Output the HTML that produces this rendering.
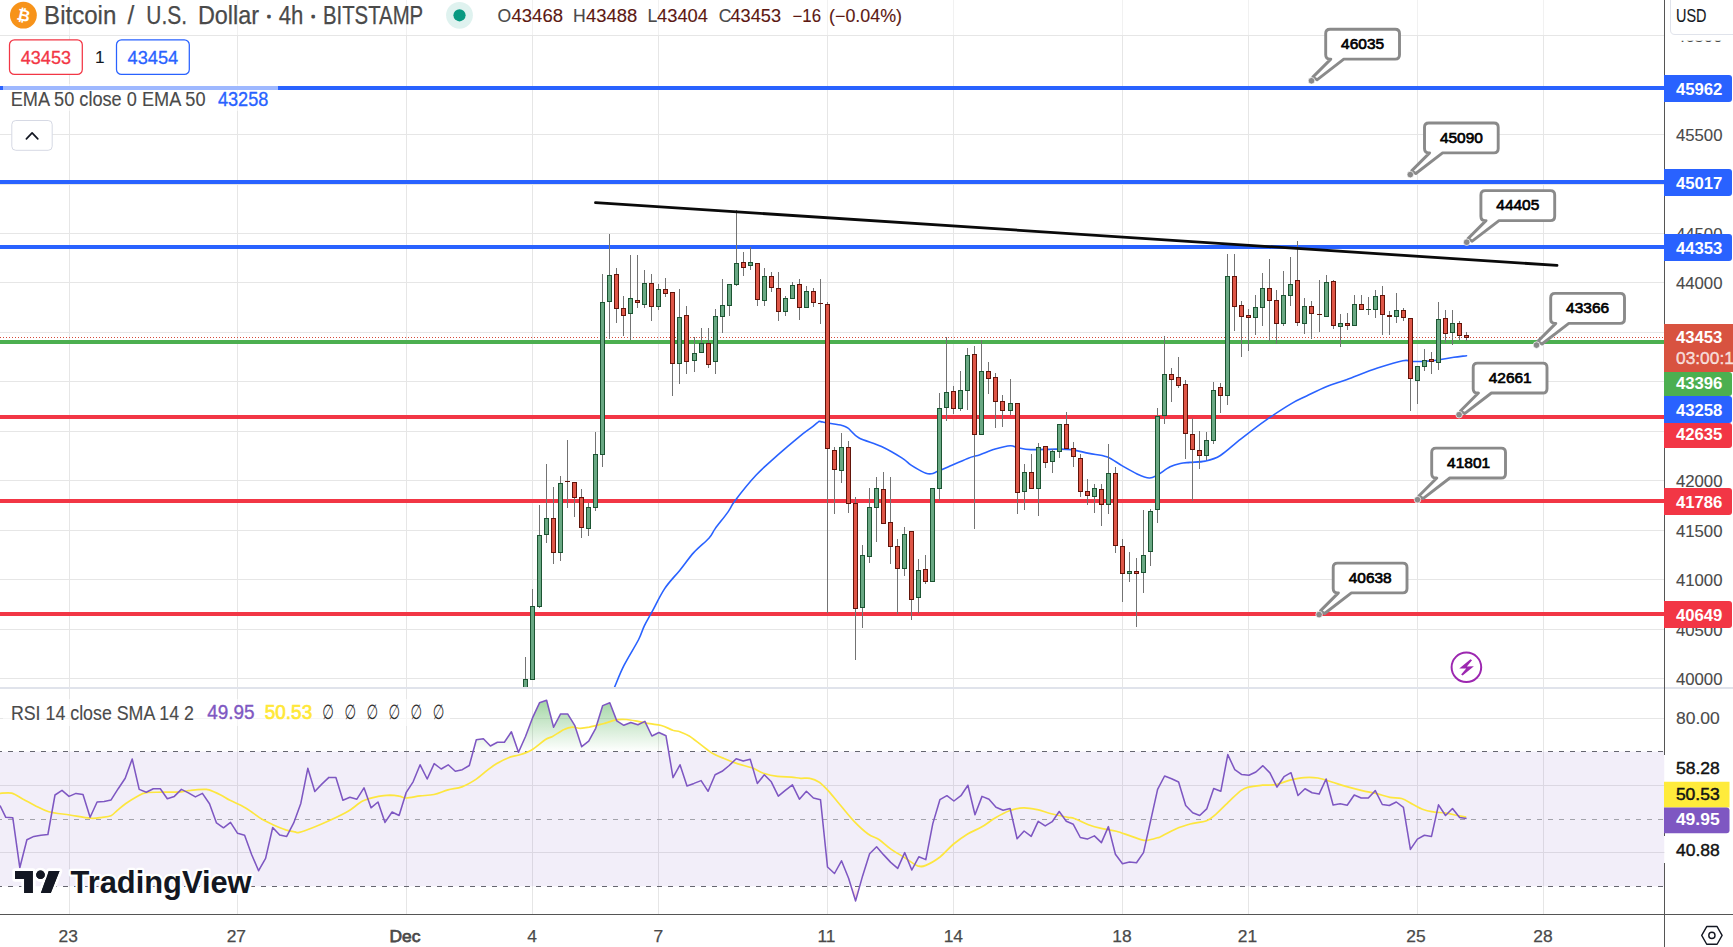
<!DOCTYPE html>
<html lang="en"><head><meta charset="utf-8"><title>BTCUSD 4h chart</title>
<style>
html,body{margin:0;padding:0;background:#fff;}
body{width:1733px;height:947px;overflow:hidden;font-family:"Liberation Sans", "DejaVu Sans", sans-serif;}
svg{display:block;font-family:"Liberation Sans", "DejaVu Sans", sans-serif;}
</style></head><body>
<svg width="1733" height="947" viewBox="0 0 1733 947">
<defs>
<clipPath id="mainclip"><rect x="0" y="0" width="1664.5" height="687"/></clipPath>
<clipPath id="rsiclip"><rect x="0" y="689" width="1664.5" height="225.5"/></clipPath>
<clipPath id="obclip"><rect x="0" y="689" width="1664.5" height="62.60000000000002"/></clipPath>
<clipPath id="osclip"><rect x="0" y="886.3" width="1664.5" height="28.200000000000045"/></clipPath>
<clipPath id="axclip"><rect x="1664.5" y="40.8" width="80" height="647.2"/></clipPath>
<linearGradient id="obgrad" gradientUnits="userSpaceOnUse" x1="0" y1="697" x2="0" y2="751.6">
<stop offset="0" stop-color="#4caf50" stop-opacity="0.55"/><stop offset="1" stop-color="#4caf50" stop-opacity="0"/></linearGradient>
<linearGradient id="osgrad" gradientUnits="userSpaceOnUse" x1="0" y1="886.3" x2="0" y2="910">
<stop offset="0" stop-color="#f23645" stop-opacity="0"/><stop offset="1" stop-color="#f23645" stop-opacity="0.5"/></linearGradient>
</defs>
<rect width="1733" height="947" fill="#fff"/>

<g stroke="#e6e6e6" stroke-width="1" shape-rendering="crispEdges">
<line x1="69.5" y1="35" x2="69.5" y2="688"/>
<line x1="69.5" y1="0" x2="69.5" y2="35" stroke="#f1f1f1"/>
<line x1="69.5" y1="688" x2="69.5" y2="914.5"/>
<line x1="237.5" y1="35" x2="237.5" y2="688"/>
<line x1="237.5" y1="0" x2="237.5" y2="35" stroke="#f1f1f1"/>
<line x1="237.5" y1="688" x2="237.5" y2="914.5"/>
<line x1="406.5" y1="35" x2="406.5" y2="688"/>
<line x1="406.5" y1="0" x2="406.5" y2="35" stroke="#f1f1f1"/>
<line x1="406.5" y1="688" x2="406.5" y2="914.5"/>
<line x1="532.5" y1="35" x2="532.5" y2="688"/>
<line x1="532.5" y1="0" x2="532.5" y2="35" stroke="#f1f1f1"/>
<line x1="532.5" y1="688" x2="532.5" y2="914.5"/>
<line x1="658.5" y1="35" x2="658.5" y2="688"/>
<line x1="658.5" y1="0" x2="658.5" y2="35" stroke="#f1f1f1"/>
<line x1="658.5" y1="688" x2="658.5" y2="914.5"/>
<line x1="827.5" y1="35" x2="827.5" y2="688"/>
<line x1="827.5" y1="0" x2="827.5" y2="35" stroke="#f1f1f1"/>
<line x1="827.5" y1="688" x2="827.5" y2="914.5"/>
<line x1="953.5" y1="35" x2="953.5" y2="688"/>
<line x1="953.5" y1="0" x2="953.5" y2="35" stroke="#f1f1f1"/>
<line x1="953.5" y1="688" x2="953.5" y2="914.5"/>
<line x1="1122.5" y1="35" x2="1122.5" y2="688"/>
<line x1="1122.5" y1="0" x2="1122.5" y2="35" stroke="#f1f1f1"/>
<line x1="1122.5" y1="688" x2="1122.5" y2="914.5"/>
<line x1="1248.5" y1="35" x2="1248.5" y2="688"/>
<line x1="1248.5" y1="0" x2="1248.5" y2="35" stroke="#f1f1f1"/>
<line x1="1248.5" y1="688" x2="1248.5" y2="914.5"/>
<line x1="1417.5" y1="35" x2="1417.5" y2="688"/>
<line x1="1417.5" y1="0" x2="1417.5" y2="35" stroke="#f1f1f1"/>
<line x1="1417.5" y1="688" x2="1417.5" y2="914.5"/>
<line x1="1543.5" y1="35" x2="1543.5" y2="688"/>
<line x1="1543.5" y1="0" x2="1543.5" y2="35" stroke="#f1f1f1"/>
<line x1="1543.5" y1="688" x2="1543.5" y2="914.5"/>
<line x1="0" y1="678.5" x2="1664.5" y2="678.5"/>
<line x1="0" y1="629.5" x2="1664.5" y2="629.5"/>
<line x1="0" y1="579.5" x2="1664.5" y2="579.5"/>
<line x1="0" y1="530.5" x2="1664.5" y2="530.5"/>
<line x1="0" y1="480.5" x2="1664.5" y2="480.5"/>
<line x1="0" y1="431.5" x2="1664.5" y2="431.5"/>
<line x1="0" y1="381.5" x2="1664.5" y2="381.5"/>
<line x1="0" y1="332.5" x2="1664.5" y2="332.5"/>
<line x1="0" y1="282.5" x2="1664.5" y2="282.5"/>
<line x1="0" y1="233.5" x2="1664.5" y2="233.5"/>
<line x1="0" y1="184.5" x2="1664.5" y2="184.5"/>
<line x1="0" y1="134.5" x2="1664.5" y2="134.5"/>
<line x1="0" y1="35.5" x2="1664.5" y2="35.5"/>
<line x1="0" y1="718.5" x2="1664.5" y2="718.5"/>
<line x1="0" y1="785.5" x2="1664.5" y2="785.5"/>
<line x1="0" y1="852.5" x2="1664.5" y2="852.5"/>
</g>
<rect x="0" y="751.6" width="1664.5" height="134.7" fill="#7e57c2" fill-opacity="0.1"/>
<g stroke="#666670" stroke-width="1" stroke-dasharray="5 6" stroke-dashoffset="3">
<line x1="0" y1="751.5" x2="1664.5" y2="751.5"/>
<line x1="0" y1="886.5" x2="1664.5" y2="886.5"/>
</g>
<line x1="0" y1="819.5" x2="1664.5" y2="819.5" stroke="#a3a3ab" stroke-width="1.1" stroke-dasharray="5 6" stroke-dashoffset="3"/>
<line x1="0" y1="88" x2="1664.5" y2="88" stroke="#2962ff" stroke-width="4"/>
<line x1="0" y1="182" x2="1664.5" y2="182" stroke="#2962ff" stroke-width="4"/>
<line x1="0" y1="247" x2="1664.5" y2="247" stroke="#2962ff" stroke-width="4"/>
<line x1="0" y1="342" x2="1664.5" y2="342" stroke="#4caf50" stroke-width="4"/>
<line x1="0" y1="417" x2="1664.5" y2="417" stroke="#f23645" stroke-width="4"/>
<line x1="0" y1="501" x2="1664.5" y2="501" stroke="#f23645" stroke-width="4"/>
<line x1="0" y1="614" x2="1664.5" y2="614" stroke="#f23645" stroke-width="4"/>
<line x1="0" y1="337.5" x2="1664.5" y2="337.5" stroke="#d64b3a" stroke-width="1" stroke-dasharray="1 2" shape-rendering="crispEdges"/>
<g clip-path="url(#mainclip)">
<path d="M614.6,687.0 C616.2,683.4 620.0,673.2 624.0,665.4 C628.0,657.6 635.0,646.5 638.4,640.0 C641.8,633.5 642.0,630.7 644.2,626.1 C646.4,621.5 648.4,618.4 651.8,612.2 C655.2,606.0 659.9,595.9 664.5,588.9 C669.1,581.9 674.8,576.4 679.7,570.4 C684.6,564.4 688.8,558.0 693.7,552.6 C698.6,547.2 705.3,542.2 708.9,538.2 C712.5,534.2 712.0,533.0 715.2,528.6 C718.4,524.2 724.6,516.8 727.9,512.1 C731.2,507.5 730.3,506.9 735.0,500.7 C739.7,494.5 749.1,482.6 756.2,475.0 C763.3,467.4 770.5,461.5 777.6,455.1 C784.8,448.7 793.5,441.4 799.1,436.8 C804.7,432.2 808.2,430.0 811.3,427.6 C814.4,425.2 816.2,423.6 817.5,422.6 C818.8,421.6 818.5,421.5 819.2,421.4 C820.0,421.3 820.6,421.6 822.0,421.9 C823.4,422.2 824.2,422.4 827.5,423.0 C830.8,423.6 838.6,424.5 842.0,425.4 C845.4,426.3 845.3,426.1 848.1,428.2 C850.9,430.2 853.1,434.6 858.7,437.7 C864.3,440.8 874.3,443.1 881.5,446.5 C888.7,449.9 896.9,454.8 901.8,457.9 C906.7,461.0 907.7,462.8 910.7,464.9 C913.7,467.0 917.5,469.0 920.0,470.4 C922.5,471.8 924.0,472.7 925.9,473.3 C927.8,473.9 929.3,474.1 931.2,473.8 C933.1,473.5 934.5,472.7 937.2,471.6 C939.9,470.5 942.3,469.5 947.4,467.3 C952.5,465.1 962.3,460.5 967.7,458.4 C973.1,456.3 975.4,456.2 980.0,454.7 C984.6,453.1 990.1,450.6 995.2,449.1 C1000.3,447.6 1006.6,446.0 1010.4,445.8 C1014.2,445.6 1014.6,447.2 1018.0,447.8 C1021.4,448.4 1024.4,449.4 1030.7,449.6 C1037.0,449.8 1049.2,449.1 1056.0,449.1 C1062.8,449.1 1065.7,448.9 1071.2,449.6 C1076.7,450.3 1083.1,452.2 1089.0,453.4 C1094.9,454.6 1101.2,454.7 1106.7,456.7 C1112.2,458.7 1116.8,462.7 1121.9,465.6 C1127.0,468.5 1132.5,471.8 1137.1,473.9 C1141.7,476.0 1145.9,477.8 1149.3,478.0 C1152.7,478.2 1153.9,476.9 1157.4,475.0 C1160.9,473.1 1166.3,468.7 1170.1,466.8 C1173.9,464.9 1176.9,464.2 1180.2,463.5 C1183.5,462.8 1185.8,462.8 1190.0,462.4 C1194.2,462.0 1200.1,462.2 1205.2,461.1 C1210.3,460.0 1214.5,459.2 1220.4,455.5 C1226.3,451.8 1233.1,445.0 1240.7,439.1 C1248.3,433.2 1257.5,426.0 1266.0,420.1 C1274.5,414.2 1284.6,407.6 1291.4,403.6 C1298.2,399.6 1300.7,398.9 1306.6,396.0 C1312.5,393.1 1320.0,389.1 1326.8,386.4 C1333.5,383.6 1338.6,382.6 1347.1,379.5 C1355.5,376.4 1368.2,371.2 1377.5,368.1 C1386.8,365.0 1396.8,361.8 1402.9,360.7 C1409.0,359.6 1409.7,361.4 1414.0,361.5 C1418.3,361.6 1424.6,361.3 1428.8,361.0 C1433.0,360.7 1434.9,360.4 1439.1,359.8 C1443.3,359.2 1449.3,358.0 1453.9,357.3 C1458.5,356.6 1464.4,356.0 1466.5,355.7" fill="none" stroke="#2962ff" stroke-width="1.6" stroke-linejoin="round" stroke-linecap="round"/>
<g shape-rendering="crispEdges">
<rect x="525" y="657" width="1" height="34" fill="#737373"/>
<rect x="532" y="589" width="1" height="91" fill="#737373"/>
<rect x="539" y="505" width="1" height="103" fill="#737373"/>
<rect x="546" y="464" width="1" height="79" fill="#737373"/>
<rect x="553" y="487" width="1" height="77" fill="#737373"/>
<rect x="560" y="476" width="1" height="85" fill="#737373"/>
<rect x="567" y="440" width="1" height="68" fill="#737373"/>
<rect x="574" y="482" width="1" height="35" fill="#737373"/>
<rect x="581" y="489" width="1" height="49" fill="#737373"/>
<rect x="588" y="503" width="1" height="33" fill="#737373"/>
<rect x="595" y="432" width="1" height="79" fill="#737373"/>
<rect x="602" y="274" width="1" height="193" fill="#737373"/>
<rect x="609" y="234" width="1" height="105" fill="#737373"/>
<rect x="616" y="268" width="1" height="55" fill="#737373"/>
<rect x="623" y="296" width="1" height="40" fill="#737373"/>
<rect x="630" y="255" width="1" height="85" fill="#737373"/>
<rect x="637" y="255" width="1" height="53" fill="#737373"/>
<rect x="644" y="270" width="1" height="38" fill="#737373"/>
<rect x="651" y="274" width="1" height="47" fill="#737373"/>
<rect x="658" y="284" width="1" height="26" fill="#737373"/>
<rect x="665" y="278" width="1" height="19" fill="#737373"/>
<rect x="672" y="292" width="1" height="104" fill="#737373"/>
<rect x="679" y="289" width="1" height="95" fill="#737373"/>
<rect x="686" y="306" width="1" height="68" fill="#737373"/>
<rect x="694" y="337" width="1" height="35" fill="#737373"/>
<rect x="701" y="328" width="1" height="25" fill="#737373"/>
<rect x="708" y="328" width="1" height="40" fill="#737373"/>
<rect x="715" y="309" width="1" height="65" fill="#737373"/>
<rect x="722" y="279" width="1" height="54" fill="#737373"/>
<rect x="729" y="284" width="1" height="32" fill="#737373"/>
<rect x="736" y="210" width="1" height="76" fill="#737373"/>
<rect x="743" y="252" width="1" height="24" fill="#737373"/>
<rect x="750" y="247" width="1" height="23" fill="#737373"/>
<rect x="757" y="263" width="1" height="43" fill="#737373"/>
<rect x="764" y="268" width="1" height="38" fill="#737373"/>
<rect x="771" y="272" width="1" height="20" fill="#737373"/>
<rect x="778" y="272" width="1" height="49" fill="#737373"/>
<rect x="785" y="296" width="1" height="20" fill="#737373"/>
<rect x="792" y="282" width="1" height="17" fill="#737373"/>
<rect x="799" y="279" width="1" height="41" fill="#737373"/>
<rect x="806" y="286" width="1" height="22" fill="#737373"/>
<rect x="813" y="288" width="1" height="19" fill="#737373"/>
<rect x="820" y="279" width="1" height="45" fill="#737373"/>
<rect x="827" y="302" width="1" height="311" fill="#737373"/>
<rect x="834" y="447" width="1" height="67" fill="#737373"/>
<rect x="841" y="433" width="1" height="50" fill="#737373"/>
<rect x="848" y="441" width="1" height="72" fill="#737373"/>
<rect x="855" y="497" width="1" height="163" fill="#737373"/>
<rect x="862" y="545" width="1" height="83" fill="#737373"/>
<rect x="869" y="488" width="1" height="75" fill="#737373"/>
<rect x="876" y="477" width="1" height="65" fill="#737373"/>
<rect x="883" y="472" width="1" height="52" fill="#737373"/>
<rect x="890" y="477" width="1" height="87" fill="#737373"/>
<rect x="897" y="539" width="1" height="75" fill="#737373"/>
<rect x="904" y="527" width="1" height="49" fill="#737373"/>
<rect x="911" y="531" width="1" height="89" fill="#737373"/>
<rect x="918" y="559" width="1" height="54" fill="#737373"/>
<rect x="925" y="555" width="1" height="29" fill="#737373"/>
<rect x="932" y="488" width="1" height="94" fill="#737373"/>
<rect x="939" y="393" width="1" height="108" fill="#737373"/>
<rect x="946" y="337" width="1" height="84" fill="#737373"/>
<rect x="953" y="386" width="1" height="28" fill="#737373"/>
<rect x="960" y="371" width="1" height="40" fill="#737373"/>
<rect x="967" y="348" width="1" height="62" fill="#737373"/>
<rect x="974" y="346" width="1" height="183" fill="#737373"/>
<rect x="981" y="340" width="1" height="95" fill="#737373"/>
<rect x="988" y="362" width="1" height="32" fill="#737373"/>
<rect x="995" y="373" width="1" height="55" fill="#737373"/>
<rect x="1002" y="395" width="1" height="32" fill="#737373"/>
<rect x="1010" y="379" width="1" height="36" fill="#737373"/>
<rect x="1017" y="403" width="1" height="111" fill="#737373"/>
<rect x="1024" y="464" width="1" height="46" fill="#737373"/>
<rect x="1031" y="454" width="1" height="35" fill="#737373"/>
<rect x="1038" y="443" width="1" height="73" fill="#737373"/>
<rect x="1045" y="446" width="1" height="22" fill="#737373"/>
<rect x="1052" y="449" width="1" height="24" fill="#737373"/>
<rect x="1059" y="424" width="1" height="34" fill="#737373"/>
<rect x="1066" y="412" width="1" height="37" fill="#737373"/>
<rect x="1073" y="442" width="1" height="25" fill="#737373"/>
<rect x="1080" y="454" width="1" height="43" fill="#737373"/>
<rect x="1087" y="479" width="1" height="26" fill="#737373"/>
<rect x="1094" y="484" width="1" height="29" fill="#737373"/>
<rect x="1101" y="484" width="1" height="42" fill="#737373"/>
<rect x="1108" y="444" width="1" height="70" fill="#737373"/>
<rect x="1115" y="467" width="1" height="86" fill="#737373"/>
<rect x="1122" y="539" width="1" height="63" fill="#737373"/>
<rect x="1129" y="552" width="1" height="30" fill="#737373"/>
<rect x="1136" y="558" width="1" height="69" fill="#737373"/>
<rect x="1143" y="510" width="1" height="83" fill="#737373"/>
<rect x="1150" y="509" width="1" height="57" fill="#737373"/>
<rect x="1157" y="408" width="1" height="115" fill="#737373"/>
<rect x="1164" y="336" width="1" height="88" fill="#737373"/>
<rect x="1171" y="368" width="1" height="34" fill="#737373"/>
<rect x="1178" y="357" width="1" height="31" fill="#737373"/>
<rect x="1185" y="380" width="1" height="79" fill="#737373"/>
<rect x="1192" y="418" width="1" height="83" fill="#737373"/>
<rect x="1199" y="431" width="1" height="38" fill="#737373"/>
<rect x="1206" y="432" width="1" height="28" fill="#737373"/>
<rect x="1213" y="382" width="1" height="62" fill="#737373"/>
<rect x="1220" y="383" width="1" height="30" fill="#737373"/>
<rect x="1227" y="254" width="1" height="151" fill="#737373"/>
<rect x="1234" y="254" width="1" height="77" fill="#737373"/>
<rect x="1241" y="301" width="1" height="56" fill="#737373"/>
<rect x="1248" y="309" width="1" height="42" fill="#737373"/>
<rect x="1255" y="295" width="1" height="40" fill="#737373"/>
<rect x="1262" y="273" width="1" height="53" fill="#737373"/>
<rect x="1269" y="259" width="1" height="82" fill="#737373"/>
<rect x="1276" y="290" width="1" height="54" fill="#737373"/>
<rect x="1283" y="271" width="1" height="55" fill="#737373"/>
<rect x="1290" y="257" width="1" height="49" fill="#737373"/>
<rect x="1297" y="241" width="1" height="85" fill="#737373"/>
<rect x="1304" y="298" width="1" height="36" fill="#737373"/>
<rect x="1311" y="301" width="1" height="38" fill="#737373"/>
<rect x="1319" y="280" width="1" height="52" fill="#737373"/>
<rect x="1326" y="275" width="1" height="42" fill="#737373"/>
<rect x="1333" y="280" width="1" height="49" fill="#737373"/>
<rect x="1340" y="314" width="1" height="33" fill="#737373"/>
<rect x="1347" y="313" width="1" height="17" fill="#737373"/>
<rect x="1354" y="295" width="1" height="31" fill="#737373"/>
<rect x="1361" y="295" width="1" height="15" fill="#737373"/>
<rect x="1368" y="297" width="1" height="18" fill="#737373"/>
<rect x="1375" y="290" width="1" height="28" fill="#737373"/>
<rect x="1382" y="286" width="1" height="49" fill="#737373"/>
<rect x="1389" y="311" width="1" height="24" fill="#737373"/>
<rect x="1396" y="293" width="1" height="30" fill="#737373"/>
<rect x="1403" y="308" width="1" height="13" fill="#737373"/>
<rect x="1410" y="318" width="1" height="93" fill="#737373"/>
<rect x="1417" y="366" width="1" height="38" fill="#737373"/>
<rect x="1424" y="349" width="1" height="22" fill="#737373"/>
<rect x="1431" y="352" width="1" height="22" fill="#737373"/>
<rect x="1438" y="302" width="1" height="68" fill="#737373"/>
<rect x="1445" y="310" width="1" height="33" fill="#737373"/>
<rect x="1452" y="310" width="1" height="35" fill="#737373"/>
<rect x="1459" y="321" width="1" height="19" fill="#737373"/>
<rect x="1466" y="332" width="1" height="9" fill="#737373"/>
<rect x="523" y="679" width="5" height="12" fill="#1c5432"/>
<rect x="524" y="680" width="3" height="10" fill="#69a883"/>
<rect x="530" y="606" width="5" height="74" fill="#1c5432"/>
<rect x="531" y="607" width="3" height="72" fill="#69a883"/>
<rect x="537" y="535" width="5" height="72" fill="#1c5432"/>
<rect x="538" y="536" width="3" height="70" fill="#69a883"/>
<rect x="544" y="518" width="5" height="17" fill="#1c5432"/>
<rect x="545" y="519" width="3" height="15" fill="#69a883"/>
<rect x="551" y="518" width="5" height="35" fill="#62140a"/>
<rect x="552" y="519" width="3" height="33" fill="#de5647"/>
<rect x="558" y="483" width="5" height="70" fill="#1c5432"/>
<rect x="559" y="484" width="3" height="68" fill="#69a883"/>
<rect x="565" y="481" width="5" height="1" fill="#62140a"/>
<rect x="572" y="482" width="5" height="16" fill="#62140a"/>
<rect x="573" y="483" width="3" height="14" fill="#de5647"/>
<rect x="579" y="497" width="5" height="31" fill="#62140a"/>
<rect x="580" y="498" width="3" height="29" fill="#de5647"/>
<rect x="586" y="507" width="5" height="22" fill="#1c5432"/>
<rect x="587" y="508" width="3" height="20" fill="#69a883"/>
<rect x="593" y="454" width="5" height="54" fill="#1c5432"/>
<rect x="594" y="455" width="3" height="52" fill="#69a883"/>
<rect x="600" y="302" width="5" height="153" fill="#1c5432"/>
<rect x="601" y="303" width="3" height="151" fill="#69a883"/>
<rect x="607" y="275" width="5" height="27" fill="#1c5432"/>
<rect x="608" y="276" width="3" height="25" fill="#69a883"/>
<rect x="614" y="274" width="5" height="35" fill="#62140a"/>
<rect x="615" y="275" width="3" height="33" fill="#de5647"/>
<rect x="621" y="308" width="5" height="8" fill="#62140a"/>
<rect x="622" y="309" width="3" height="6" fill="#de5647"/>
<rect x="628" y="298" width="5" height="16" fill="#1c5432"/>
<rect x="629" y="299" width="3" height="14" fill="#69a883"/>
<rect x="635" y="300" width="5" height="3" fill="#62140a"/>
<rect x="636" y="301" width="3" height="1" fill="#de5647"/>
<rect x="642" y="283" width="5" height="22" fill="#1c5432"/>
<rect x="643" y="284" width="3" height="20" fill="#69a883"/>
<rect x="649" y="283" width="5" height="24" fill="#62140a"/>
<rect x="650" y="284" width="3" height="22" fill="#de5647"/>
<rect x="656" y="289" width="5" height="18" fill="#1c5432"/>
<rect x="657" y="290" width="3" height="16" fill="#69a883"/>
<rect x="663" y="289" width="5" height="5" fill="#62140a"/>
<rect x="664" y="290" width="3" height="3" fill="#de5647"/>
<rect x="670" y="292" width="5" height="72" fill="#62140a"/>
<rect x="671" y="293" width="3" height="70" fill="#de5647"/>
<rect x="677" y="317" width="5" height="47" fill="#1c5432"/>
<rect x="678" y="318" width="3" height="45" fill="#69a883"/>
<rect x="684" y="315" width="5" height="47" fill="#62140a"/>
<rect x="685" y="316" width="3" height="45" fill="#de5647"/>
<rect x="692" y="353" width="5" height="8" fill="#1c5432"/>
<rect x="693" y="354" width="3" height="6" fill="#69a883"/>
<rect x="699" y="343" width="5" height="10" fill="#1c5432"/>
<rect x="700" y="344" width="3" height="8" fill="#69a883"/>
<rect x="706" y="343" width="5" height="22" fill="#62140a"/>
<rect x="707" y="344" width="3" height="20" fill="#de5647"/>
<rect x="713" y="316" width="5" height="46" fill="#1c5432"/>
<rect x="714" y="317" width="3" height="44" fill="#69a883"/>
<rect x="720" y="305" width="5" height="12" fill="#1c5432"/>
<rect x="721" y="306" width="3" height="10" fill="#69a883"/>
<rect x="727" y="284" width="5" height="22" fill="#1c5432"/>
<rect x="728" y="285" width="3" height="20" fill="#69a883"/>
<rect x="734" y="263" width="5" height="22" fill="#1c5432"/>
<rect x="735" y="264" width="3" height="20" fill="#69a883"/>
<rect x="741" y="262" width="5" height="6" fill="#62140a"/>
<rect x="742" y="263" width="3" height="4" fill="#de5647"/>
<rect x="748" y="262" width="5" height="4" fill="#1c5432"/>
<rect x="749" y="263" width="3" height="2" fill="#69a883"/>
<rect x="755" y="263" width="5" height="37" fill="#62140a"/>
<rect x="756" y="264" width="3" height="35" fill="#de5647"/>
<rect x="762" y="276" width="5" height="25" fill="#1c5432"/>
<rect x="763" y="277" width="3" height="23" fill="#69a883"/>
<rect x="769" y="276" width="5" height="12" fill="#62140a"/>
<rect x="770" y="277" width="3" height="10" fill="#de5647"/>
<rect x="776" y="288" width="5" height="24" fill="#62140a"/>
<rect x="777" y="289" width="3" height="22" fill="#de5647"/>
<rect x="783" y="298" width="5" height="14" fill="#1c5432"/>
<rect x="784" y="299" width="3" height="12" fill="#69a883"/>
<rect x="790" y="285" width="5" height="14" fill="#1c5432"/>
<rect x="791" y="286" width="3" height="12" fill="#69a883"/>
<rect x="797" y="284" width="5" height="24" fill="#62140a"/>
<rect x="798" y="285" width="3" height="22" fill="#de5647"/>
<rect x="804" y="291" width="5" height="17" fill="#1c5432"/>
<rect x="805" y="292" width="3" height="15" fill="#69a883"/>
<rect x="811" y="291" width="5" height="12" fill="#62140a"/>
<rect x="812" y="292" width="3" height="10" fill="#de5647"/>
<rect x="818" y="303" width="5" height="1" fill="#62140a"/>
<rect x="825" y="304" width="5" height="145" fill="#62140a"/>
<rect x="826" y="305" width="3" height="143" fill="#de5647"/>
<rect x="832" y="450" width="5" height="20" fill="#62140a"/>
<rect x="833" y="451" width="3" height="18" fill="#de5647"/>
<rect x="839" y="447" width="5" height="24" fill="#1c5432"/>
<rect x="840" y="448" width="3" height="22" fill="#69a883"/>
<rect x="846" y="447" width="5" height="57" fill="#62140a"/>
<rect x="847" y="448" width="3" height="55" fill="#de5647"/>
<rect x="853" y="503" width="5" height="106" fill="#62140a"/>
<rect x="854" y="504" width="3" height="104" fill="#de5647"/>
<rect x="860" y="555" width="5" height="53" fill="#1c5432"/>
<rect x="861" y="556" width="3" height="51" fill="#69a883"/>
<rect x="867" y="507" width="5" height="50" fill="#1c5432"/>
<rect x="868" y="508" width="3" height="48" fill="#69a883"/>
<rect x="874" y="488" width="5" height="20" fill="#1c5432"/>
<rect x="875" y="489" width="3" height="18" fill="#69a883"/>
<rect x="881" y="489" width="5" height="35" fill="#62140a"/>
<rect x="882" y="490" width="3" height="33" fill="#de5647"/>
<rect x="888" y="522" width="5" height="25" fill="#62140a"/>
<rect x="889" y="523" width="3" height="23" fill="#de5647"/>
<rect x="895" y="546" width="5" height="23" fill="#62140a"/>
<rect x="896" y="547" width="3" height="21" fill="#de5647"/>
<rect x="902" y="534" width="5" height="35" fill="#1c5432"/>
<rect x="903" y="535" width="3" height="33" fill="#69a883"/>
<rect x="909" y="531" width="5" height="69" fill="#62140a"/>
<rect x="910" y="532" width="3" height="67" fill="#de5647"/>
<rect x="916" y="570" width="5" height="28" fill="#1c5432"/>
<rect x="917" y="571" width="3" height="26" fill="#69a883"/>
<rect x="923" y="569" width="5" height="13" fill="#62140a"/>
<rect x="924" y="570" width="3" height="11" fill="#de5647"/>
<rect x="930" y="488" width="5" height="94" fill="#1c5432"/>
<rect x="931" y="489" width="3" height="92" fill="#69a883"/>
<rect x="937" y="408" width="5" height="81" fill="#1c5432"/>
<rect x="938" y="409" width="3" height="79" fill="#69a883"/>
<rect x="944" y="392" width="5" height="16" fill="#1c5432"/>
<rect x="945" y="393" width="3" height="14" fill="#69a883"/>
<rect x="951" y="391" width="5" height="18" fill="#62140a"/>
<rect x="952" y="392" width="3" height="16" fill="#de5647"/>
<rect x="958" y="390" width="5" height="19" fill="#1c5432"/>
<rect x="959" y="391" width="3" height="17" fill="#69a883"/>
<rect x="965" y="355" width="5" height="36" fill="#1c5432"/>
<rect x="966" y="356" width="3" height="34" fill="#69a883"/>
<rect x="972" y="354" width="5" height="81" fill="#62140a"/>
<rect x="973" y="355" width="3" height="79" fill="#de5647"/>
<rect x="979" y="371" width="5" height="64" fill="#1c5432"/>
<rect x="980" y="372" width="3" height="62" fill="#69a883"/>
<rect x="986" y="371" width="5" height="8" fill="#62140a"/>
<rect x="987" y="372" width="3" height="6" fill="#de5647"/>
<rect x="993" y="377" width="5" height="25" fill="#62140a"/>
<rect x="994" y="378" width="3" height="23" fill="#de5647"/>
<rect x="1000" y="401" width="5" height="10" fill="#62140a"/>
<rect x="1001" y="402" width="3" height="8" fill="#de5647"/>
<rect x="1008" y="403" width="5" height="8" fill="#1c5432"/>
<rect x="1009" y="404" width="3" height="6" fill="#69a883"/>
<rect x="1015" y="403" width="5" height="90" fill="#62140a"/>
<rect x="1016" y="404" width="3" height="88" fill="#de5647"/>
<rect x="1022" y="472" width="5" height="20" fill="#1c5432"/>
<rect x="1023" y="473" width="3" height="18" fill="#69a883"/>
<rect x="1029" y="472" width="5" height="17" fill="#62140a"/>
<rect x="1030" y="473" width="3" height="15" fill="#de5647"/>
<rect x="1036" y="447" width="5" height="42" fill="#1c5432"/>
<rect x="1037" y="448" width="3" height="40" fill="#69a883"/>
<rect x="1043" y="446" width="5" height="17" fill="#62140a"/>
<rect x="1044" y="447" width="3" height="15" fill="#de5647"/>
<rect x="1050" y="451" width="5" height="11" fill="#1c5432"/>
<rect x="1051" y="452" width="3" height="9" fill="#69a883"/>
<rect x="1057" y="424" width="5" height="28" fill="#1c5432"/>
<rect x="1058" y="425" width="3" height="26" fill="#69a883"/>
<rect x="1064" y="424" width="5" height="25" fill="#62140a"/>
<rect x="1065" y="425" width="3" height="23" fill="#de5647"/>
<rect x="1071" y="448" width="5" height="9" fill="#62140a"/>
<rect x="1072" y="449" width="3" height="7" fill="#de5647"/>
<rect x="1078" y="458" width="5" height="34" fill="#62140a"/>
<rect x="1079" y="459" width="3" height="32" fill="#de5647"/>
<rect x="1085" y="491" width="5" height="5" fill="#62140a"/>
<rect x="1086" y="492" width="3" height="3" fill="#de5647"/>
<rect x="1092" y="488" width="5" height="9" fill="#1c5432"/>
<rect x="1093" y="489" width="3" height="7" fill="#69a883"/>
<rect x="1099" y="489" width="5" height="16" fill="#62140a"/>
<rect x="1100" y="490" width="3" height="14" fill="#de5647"/>
<rect x="1106" y="473" width="5" height="32" fill="#1c5432"/>
<rect x="1107" y="474" width="3" height="30" fill="#69a883"/>
<rect x="1113" y="473" width="5" height="73" fill="#62140a"/>
<rect x="1114" y="474" width="3" height="71" fill="#de5647"/>
<rect x="1120" y="546" width="5" height="28" fill="#62140a"/>
<rect x="1121" y="547" width="3" height="26" fill="#de5647"/>
<rect x="1127" y="571" width="5" height="3" fill="#1c5432"/>
<rect x="1128" y="572" width="3" height="1" fill="#69a883"/>
<rect x="1134" y="571" width="5" height="3" fill="#62140a"/>
<rect x="1135" y="572" width="3" height="1" fill="#de5647"/>
<rect x="1141" y="555" width="5" height="18" fill="#1c5432"/>
<rect x="1142" y="556" width="3" height="16" fill="#69a883"/>
<rect x="1148" y="511" width="5" height="41" fill="#1c5432"/>
<rect x="1149" y="512" width="3" height="39" fill="#69a883"/>
<rect x="1155" y="416" width="5" height="94" fill="#1c5432"/>
<rect x="1156" y="417" width="3" height="92" fill="#69a883"/>
<rect x="1162" y="374" width="5" height="42" fill="#1c5432"/>
<rect x="1163" y="375" width="3" height="40" fill="#69a883"/>
<rect x="1169" y="374" width="5" height="6" fill="#62140a"/>
<rect x="1170" y="375" width="3" height="4" fill="#de5647"/>
<rect x="1176" y="377" width="5" height="9" fill="#62140a"/>
<rect x="1177" y="378" width="3" height="7" fill="#de5647"/>
<rect x="1183" y="384" width="5" height="50" fill="#62140a"/>
<rect x="1184" y="385" width="3" height="48" fill="#de5647"/>
<rect x="1190" y="434" width="5" height="16" fill="#62140a"/>
<rect x="1191" y="435" width="3" height="14" fill="#de5647"/>
<rect x="1197" y="450" width="5" height="6" fill="#62140a"/>
<rect x="1198" y="451" width="3" height="4" fill="#de5647"/>
<rect x="1204" y="440" width="5" height="16" fill="#1c5432"/>
<rect x="1205" y="441" width="3" height="14" fill="#69a883"/>
<rect x="1211" y="390" width="5" height="51" fill="#1c5432"/>
<rect x="1212" y="391" width="3" height="49" fill="#69a883"/>
<rect x="1218" y="387" width="5" height="9" fill="#62140a"/>
<rect x="1219" y="388" width="3" height="7" fill="#de5647"/>
<rect x="1225" y="276" width="5" height="120" fill="#1c5432"/>
<rect x="1226" y="277" width="3" height="118" fill="#69a883"/>
<rect x="1232" y="276" width="5" height="31" fill="#62140a"/>
<rect x="1233" y="277" width="3" height="29" fill="#de5647"/>
<rect x="1239" y="305" width="5" height="12" fill="#62140a"/>
<rect x="1240" y="306" width="3" height="10" fill="#de5647"/>
<rect x="1246" y="315" width="5" height="3" fill="#62140a"/>
<rect x="1247" y="316" width="3" height="1" fill="#de5647"/>
<rect x="1253" y="307" width="5" height="11" fill="#1c5432"/>
<rect x="1254" y="308" width="3" height="9" fill="#69a883"/>
<rect x="1260" y="288" width="5" height="20" fill="#1c5432"/>
<rect x="1261" y="289" width="3" height="18" fill="#69a883"/>
<rect x="1267" y="288" width="5" height="13" fill="#62140a"/>
<rect x="1268" y="289" width="3" height="11" fill="#de5647"/>
<rect x="1274" y="300" width="5" height="24" fill="#62140a"/>
<rect x="1275" y="301" width="3" height="22" fill="#de5647"/>
<rect x="1281" y="295" width="5" height="29" fill="#1c5432"/>
<rect x="1282" y="296" width="3" height="27" fill="#69a883"/>
<rect x="1288" y="284" width="5" height="12" fill="#1c5432"/>
<rect x="1289" y="285" width="3" height="10" fill="#69a883"/>
<rect x="1295" y="280" width="5" height="43" fill="#62140a"/>
<rect x="1296" y="281" width="3" height="41" fill="#de5647"/>
<rect x="1302" y="306" width="5" height="18" fill="#1c5432"/>
<rect x="1303" y="307" width="3" height="16" fill="#69a883"/>
<rect x="1309" y="306" width="5" height="8" fill="#62140a"/>
<rect x="1310" y="307" width="3" height="6" fill="#de5647"/>
<rect x="1317" y="314" width="5" height="1" fill="#62140a"/>
<rect x="1324" y="282" width="5" height="35" fill="#1c5432"/>
<rect x="1325" y="283" width="3" height="33" fill="#69a883"/>
<rect x="1331" y="281" width="5" height="45" fill="#62140a"/>
<rect x="1332" y="282" width="3" height="43" fill="#de5647"/>
<rect x="1338" y="323" width="5" height="4" fill="#1c5432"/>
<rect x="1339" y="324" width="3" height="2" fill="#69a883"/>
<rect x="1345" y="323" width="5" height="3" fill="#62140a"/>
<rect x="1346" y="324" width="3" height="1" fill="#de5647"/>
<rect x="1352" y="304" width="5" height="22" fill="#1c5432"/>
<rect x="1353" y="305" width="3" height="20" fill="#69a883"/>
<rect x="1359" y="304" width="5" height="6" fill="#62140a"/>
<rect x="1360" y="305" width="3" height="4" fill="#de5647"/>
<rect x="1366" y="309" width="5" height="1" fill="#1c5432"/>
<rect x="1373" y="296" width="5" height="14" fill="#1c5432"/>
<rect x="1374" y="297" width="3" height="12" fill="#69a883"/>
<rect x="1380" y="295" width="5" height="20" fill="#62140a"/>
<rect x="1381" y="296" width="3" height="18" fill="#de5647"/>
<rect x="1387" y="315" width="5" height="2" fill="#62140a"/>
<rect x="1394" y="310" width="5" height="7" fill="#1c5432"/>
<rect x="1395" y="311" width="3" height="5" fill="#69a883"/>
<rect x="1401" y="310" width="5" height="8" fill="#62140a"/>
<rect x="1402" y="311" width="3" height="6" fill="#de5647"/>
<rect x="1408" y="318" width="5" height="61" fill="#62140a"/>
<rect x="1409" y="319" width="3" height="59" fill="#de5647"/>
<rect x="1415" y="366" width="5" height="15" fill="#1c5432"/>
<rect x="1416" y="367" width="3" height="13" fill="#69a883"/>
<rect x="1422" y="360" width="5" height="7" fill="#1c5432"/>
<rect x="1423" y="361" width="3" height="5" fill="#69a883"/>
<rect x="1429" y="359" width="5" height="3" fill="#62140a"/>
<rect x="1430" y="360" width="3" height="1" fill="#de5647"/>
<rect x="1436" y="319" width="5" height="44" fill="#1c5432"/>
<rect x="1437" y="320" width="3" height="42" fill="#69a883"/>
<rect x="1443" y="318" width="5" height="16" fill="#62140a"/>
<rect x="1444" y="319" width="3" height="14" fill="#de5647"/>
<rect x="1450" y="323" width="5" height="10" fill="#1c5432"/>
<rect x="1451" y="324" width="3" height="8" fill="#69a883"/>
<rect x="1457" y="323" width="5" height="13" fill="#62140a"/>
<rect x="1458" y="324" width="3" height="11" fill="#de5647"/>
<rect x="1464" y="335" width="5" height="3" fill="#62140a"/>
<rect x="1465" y="336" width="3" height="1" fill="#de5647"/>
</g>
</g>
<line x1="595.5" y1="202.6" x2="1557" y2="265.4" stroke="#0a0a0a" stroke-width="2.8" stroke-linecap="round"/>
<path d="M1330.0,29.2 H1395.2 Q1399.5,29.2 1399.5,33.5 V54.8 Q1399.5,59.1 1395.2,59.1 H1343.8 L1317.0,79.8 L1312.8,77.1 L1330.8,59.1 H1330.0 Q1325.7,59.1 1325.7,54.8 V33.5 Q1325.7,29.2 1330.0,29.2 Z" fill="#fff" stroke="#8a8a8a" stroke-width="2.9" stroke-linejoin="round"/>
<circle cx="1311.5" cy="80.8" r="3.3" fill="#8a8a8a" stroke="#fff" stroke-width="0.7"/>
<text x="1362.6" y="48.9" font-size="15" fill="#000" font-weight="normal" text-anchor="middle" textLength="43" lengthAdjust="spacingAndGlyphs" stroke="#000" stroke-width="0.65">46035</text>
<path d="M1428.8,123.0 H1494.0 Q1498.2,123.0 1498.2,127.3 V148.6 Q1498.2,152.9 1494.0,152.9 H1442.6 L1415.8,173.5 L1411.6,170.9 L1429.6,152.9 H1428.8 Q1424.5,152.9 1424.5,148.6 V127.3 Q1424.5,123.0 1428.8,123.0 Z" fill="#fff" stroke="#8a8a8a" stroke-width="2.9" stroke-linejoin="round"/>
<circle cx="1410.3" cy="174.6" r="3.3" fill="#8a8a8a" stroke="#fff" stroke-width="0.7"/>
<text x="1461.4" y="142.7" font-size="15" fill="#000" font-weight="normal" text-anchor="middle" textLength="43" lengthAdjust="spacingAndGlyphs" stroke="#000" stroke-width="0.65">45090</text>
<path d="M1485.2,190.6 H1550.4 Q1554.7,190.6 1554.7,194.9 V216.2 Q1554.7,220.6 1550.4,220.6 H1499.0 L1472.2,241.2 L1468.0,238.6 L1486.0,220.6 H1485.2 Q1480.9,220.6 1480.9,216.2 V194.9 Q1480.9,190.6 1485.2,190.6 Z" fill="#fff" stroke="#8a8a8a" stroke-width="2.9" stroke-linejoin="round"/>
<circle cx="1466.7" cy="242.2" r="3.3" fill="#8a8a8a" stroke="#fff" stroke-width="0.7"/>
<text x="1517.8" y="210.3" font-size="15" fill="#000" font-weight="normal" text-anchor="middle" textLength="43" lengthAdjust="spacingAndGlyphs" stroke="#000" stroke-width="0.65">44405</text>
<path d="M1555.0,293.4 H1620.2 Q1624.5,293.4 1624.5,297.8 V319.1 Q1624.5,323.4 1620.2,323.4 H1568.8 L1542.0,344.0 L1537.8,341.4 L1555.8,323.4 H1555.0 Q1550.7,323.4 1550.7,319.1 V297.8 Q1550.7,293.4 1555.0,293.4 Z" fill="#fff" stroke="#8a8a8a" stroke-width="2.9" stroke-linejoin="round"/>
<circle cx="1536.5" cy="345.1" r="3.3" fill="#8a8a8a" stroke="#fff" stroke-width="0.7"/>
<text x="1587.6" y="313.1" font-size="15" fill="#000" font-weight="normal" text-anchor="middle" textLength="43" lengthAdjust="spacingAndGlyphs" stroke="#000" stroke-width="0.65">43366</text>
<path d="M1477.5,363.1 H1542.8 Q1547.0,363.1 1547.0,367.4 V388.7 Q1547.0,393.0 1542.8,393.0 H1491.4 L1464.6,413.6 L1460.4,411.0 L1478.4,393.0 H1477.5 Q1473.2,393.0 1473.2,388.7 V367.4 Q1473.2,363.1 1477.5,363.1 Z" fill="#fff" stroke="#8a8a8a" stroke-width="2.9" stroke-linejoin="round"/>
<circle cx="1459.1" cy="414.7" r="3.3" fill="#8a8a8a" stroke="#fff" stroke-width="0.7"/>
<text x="1510.2" y="382.7" font-size="15" fill="#000" font-weight="normal" text-anchor="middle" textLength="43" lengthAdjust="spacingAndGlyphs" stroke="#000" stroke-width="0.65">42661</text>
<path d="M1436.0,448.1 H1501.2 Q1505.5,448.1 1505.5,452.4 V473.7 Q1505.5,478.0 1501.2,478.0 H1449.8 L1423.0,498.6 L1418.8,496.0 L1436.8,478.0 H1436.0 Q1431.7,478.0 1431.7,473.7 V452.4 Q1431.7,448.1 1436.0,448.1 Z" fill="#fff" stroke="#8a8a8a" stroke-width="2.9" stroke-linejoin="round"/>
<circle cx="1417.5" cy="499.7" r="3.3" fill="#8a8a8a" stroke="#fff" stroke-width="0.7"/>
<text x="1468.6" y="467.7" font-size="15" fill="#000" font-weight="normal" text-anchor="middle" textLength="43" lengthAdjust="spacingAndGlyphs" stroke="#000" stroke-width="0.65">41801</text>
<path d="M1337.5,563.1 H1402.8 Q1407.0,563.1 1407.0,567.4 V588.6 Q1407.0,592.9 1402.8,592.9 H1351.4 L1324.6,613.5 L1320.4,610.9 L1338.4,592.9 H1337.5 Q1333.2,592.9 1333.2,588.6 V567.4 Q1333.2,563.1 1337.5,563.1 Z" fill="#fff" stroke="#8a8a8a" stroke-width="2.9" stroke-linejoin="round"/>
<circle cx="1319.1" cy="614.6" r="3.3" fill="#8a8a8a" stroke="#fff" stroke-width="0.7"/>
<text x="1370.2" y="582.7" font-size="15" fill="#000" font-weight="normal" text-anchor="middle" textLength="43" lengthAdjust="spacingAndGlyphs" stroke="#000" stroke-width="0.65">40638</text>
<g transform="translate(1466.4,667.3)"><circle r="14.8" fill="#fff" stroke="#9c27b0" stroke-width="2"/><path d="M4.07,-8.13 L5.63,-6.97 L0.41,-0.87 L7.49,-0.99 L-3.77,8.3 L-5.28,7.14 L-0.17,1.16 L-7.14,1.28 Z" fill="#9c27b0"/></g>
<g clip-path="url(#rsiclip)">
<polygon points="0,751.6 0.0,805.5 5.8,817.3 12.8,817.8 19.8,867.7 26.9,839.8 33.9,836.4 40.9,835.2 47.9,834.5 55.0,795.0 62.0,790.4 69.0,796.4 76.0,793.4 83.0,794.5 90.1,817.3 97.1,802.0 104.1,801.5 111.1,799.9 118.2,788.7 125.2,778.3 132.2,759.0 139.2,789.4 146.3,792.2 153.3,788.7 160.3,788.7 167.3,798.7 174.3,796.4 181.4,789.4 188.4,792.9 195.4,796.9 202.4,793.4 209.5,803.8 216.5,822.9 223.5,827.8 230.5,822.4 237.6,833.3 244.6,835.2 251.6,854.5 258.6,870.7 265.6,858.4 272.7,827.5 279.7,835.0 286.7,836.4 293.7,822.9 300.8,803.4 307.8,768.3 314.8,791.5 321.8,784.1 328.9,777.4 335.9,777.6 342.9,800.3 349.9,797.3 356.9,799.2 364.0,787.8 371.0,807.8 378.0,802.0 385.0,822.4 392.1,812.0 399.1,815.5 406.1,792.7 413.1,781.8 420.1,764.8 427.2,779.0 434.2,763.6 441.2,769.0 448.2,764.8 455.3,771.3 462.3,769.7 469.3,765.5 476.3,739.7 483.4,738.8 490.4,746.0 497.4,742.3 504.4,742.3 511.4,731.8 518.5,752.3 525.5,736.5 532.5,717.9 539.5,702.8 546.6,700.2 553.6,727.2 560.6,713.9 567.6,713.9 574.7,725.3 581.7,746.7 588.7,741.1 595.7,728.3 602.7,705.6 609.8,702.8 616.8,720.9 623.8,725.3 630.8,722.5 637.9,724.8 644.9,721.4 651.9,736.0 658.9,732.5 666.0,735.8 673.0,777.6 680.0,764.8 687.0,785.9 694.0,783.4 701.1,780.6 708.1,791.3 715.1,774.8 722.1,771.3 729.2,765.5 736.2,758.8 743.2,761.1 750.2,759.2 757.3,783.4 764.3,774.8 771.3,781.8 778.3,796.2 785.3,790.4 792.4,784.8 799.4,799.2 806.4,791.3 813.4,798.0 820.5,799.7 827.5,867.0 834.5,873.5 841.5,860.8 848.6,878.2 855.6,900.9 862.6,875.9 869.6,853.8 876.6,846.8 883.7,854.9 890.7,862.4 897.7,868.4 904.7,852.6 911.8,870.0 918.8,856.8 925.8,859.6 932.8,823.6 939.9,799.7 946.9,795.7 953.9,801.0 960.9,795.7 967.9,785.2 975.0,814.8 982.0,796.4 989.0,799.2 996.0,807.3 1003.1,810.3 1010.1,808.5 1017.1,838.7 1024.1,831.0 1031.2,836.4 1038.2,821.3 1045.2,825.9 1052.2,821.7 1059.2,811.5 1066.3,821.3 1073.3,824.3 1080.3,837.5 1087.3,839.1 1094.4,835.9 1101.4,842.6 1108.4,826.6 1115.4,854.2 1122.5,863.8 1129.5,862.1 1136.5,862.8 1143.5,852.6 1150.5,821.3 1157.6,789.4 1164.6,776.0 1171.6,778.7 1178.6,782.0 1185.7,805.5 1192.7,812.7 1199.7,815.5 1206.7,808.9 1213.7,788.5 1220.8,791.3 1227.8,754.6 1234.8,769.7 1241.8,774.6 1248.9,775.3 1255.9,772.0 1262.9,765.7 1269.9,772.9 1277.0,787.1 1284.0,776.7 1291.0,772.7 1298.0,795.5 1305.0,788.7 1312.1,792.7 1319.1,794.1 1326.1,779.0 1333.1,805.0 1340.2,803.8 1347.2,805.2 1354.2,795.0 1361.2,798.0 1368.3,798.0 1375.3,790.6 1382.3,804.5 1389.3,805.5 1396.3,802.0 1403.4,807.3 1410.4,849.4 1417.4,839.1 1424.4,835.2 1431.5,836.4 1438.5,804.8 1445.5,815.5 1452.5,808.5 1459.6,817.5 1466.6,818.5 1466.6,751.6" fill="url(#obgrad)" clip-path="url(#obclip)"/>
<polygon points="0,886.3 0.0,805.5 5.8,817.3 12.8,817.8 19.8,867.7 26.9,839.8 33.9,836.4 40.9,835.2 47.9,834.5 55.0,795.0 62.0,790.4 69.0,796.4 76.0,793.4 83.0,794.5 90.1,817.3 97.1,802.0 104.1,801.5 111.1,799.9 118.2,788.7 125.2,778.3 132.2,759.0 139.2,789.4 146.3,792.2 153.3,788.7 160.3,788.7 167.3,798.7 174.3,796.4 181.4,789.4 188.4,792.9 195.4,796.9 202.4,793.4 209.5,803.8 216.5,822.9 223.5,827.8 230.5,822.4 237.6,833.3 244.6,835.2 251.6,854.5 258.6,870.7 265.6,858.4 272.7,827.5 279.7,835.0 286.7,836.4 293.7,822.9 300.8,803.4 307.8,768.3 314.8,791.5 321.8,784.1 328.9,777.4 335.9,777.6 342.9,800.3 349.9,797.3 356.9,799.2 364.0,787.8 371.0,807.8 378.0,802.0 385.0,822.4 392.1,812.0 399.1,815.5 406.1,792.7 413.1,781.8 420.1,764.8 427.2,779.0 434.2,763.6 441.2,769.0 448.2,764.8 455.3,771.3 462.3,769.7 469.3,765.5 476.3,739.7 483.4,738.8 490.4,746.0 497.4,742.3 504.4,742.3 511.4,731.8 518.5,752.3 525.5,736.5 532.5,717.9 539.5,702.8 546.6,700.2 553.6,727.2 560.6,713.9 567.6,713.9 574.7,725.3 581.7,746.7 588.7,741.1 595.7,728.3 602.7,705.6 609.8,702.8 616.8,720.9 623.8,725.3 630.8,722.5 637.9,724.8 644.9,721.4 651.9,736.0 658.9,732.5 666.0,735.8 673.0,777.6 680.0,764.8 687.0,785.9 694.0,783.4 701.1,780.6 708.1,791.3 715.1,774.8 722.1,771.3 729.2,765.5 736.2,758.8 743.2,761.1 750.2,759.2 757.3,783.4 764.3,774.8 771.3,781.8 778.3,796.2 785.3,790.4 792.4,784.8 799.4,799.2 806.4,791.3 813.4,798.0 820.5,799.7 827.5,867.0 834.5,873.5 841.5,860.8 848.6,878.2 855.6,900.9 862.6,875.9 869.6,853.8 876.6,846.8 883.7,854.9 890.7,862.4 897.7,868.4 904.7,852.6 911.8,870.0 918.8,856.8 925.8,859.6 932.8,823.6 939.9,799.7 946.9,795.7 953.9,801.0 960.9,795.7 967.9,785.2 975.0,814.8 982.0,796.4 989.0,799.2 996.0,807.3 1003.1,810.3 1010.1,808.5 1017.1,838.7 1024.1,831.0 1031.2,836.4 1038.2,821.3 1045.2,825.9 1052.2,821.7 1059.2,811.5 1066.3,821.3 1073.3,824.3 1080.3,837.5 1087.3,839.1 1094.4,835.9 1101.4,842.6 1108.4,826.6 1115.4,854.2 1122.5,863.8 1129.5,862.1 1136.5,862.8 1143.5,852.6 1150.5,821.3 1157.6,789.4 1164.6,776.0 1171.6,778.7 1178.6,782.0 1185.7,805.5 1192.7,812.7 1199.7,815.5 1206.7,808.9 1213.7,788.5 1220.8,791.3 1227.8,754.6 1234.8,769.7 1241.8,774.6 1248.9,775.3 1255.9,772.0 1262.9,765.7 1269.9,772.9 1277.0,787.1 1284.0,776.7 1291.0,772.7 1298.0,795.5 1305.0,788.7 1312.1,792.7 1319.1,794.1 1326.1,779.0 1333.1,805.0 1340.2,803.8 1347.2,805.2 1354.2,795.0 1361.2,798.0 1368.3,798.0 1375.3,790.6 1382.3,804.5 1389.3,805.5 1396.3,802.0 1403.4,807.3 1410.4,849.4 1417.4,839.1 1424.4,835.2 1431.5,836.4 1438.5,804.8 1445.5,815.5 1452.5,808.5 1459.6,817.5 1466.6,818.5 1466.6,886.3" fill="url(#osgrad)" clip-path="url(#osclip)"/>
<path d="M0.0,793.4 C1.9,793.3 7.7,792.2 11.6,793.1 C15.5,794.1 19.4,797.1 23.2,799.2 C27.1,801.2 30.6,803.4 34.8,805.5 C39.1,807.6 43.0,810.1 48.8,811.7 C54.6,813.3 62.7,813.9 69.7,815.0 C76.7,816.1 85.2,817.9 90.6,818.2 C96.0,818.6 98.8,817.7 102.2,817.3 C105.6,816.9 108.5,816.8 111.0,815.7 C113.6,814.5 114.9,812.3 117.3,810.3 C119.7,808.4 122.2,806.2 125.5,803.8 C128.7,801.5 133.6,798.3 137.1,796.4 C140.6,794.5 142.1,793.4 146.4,792.7 C150.6,792.0 156.8,792.4 162.6,792.2 C168.4,792.1 176.6,792.1 181.2,791.8 C185.9,791.4 186.6,790.7 190.5,790.4 C194.4,790.0 201.3,789.5 204.4,789.4 C207.5,789.4 206.4,789.0 209.1,789.9 C211.8,790.8 217.2,793.3 220.7,795.0 C224.2,796.7 226.1,798.4 230.0,800.3 C233.9,802.3 240.1,804.7 243.9,806.9 C247.8,809.0 250.1,811.0 253.2,813.1 C256.3,815.3 259.0,817.6 262.5,819.6 C266.0,821.6 270.3,823.5 274.1,825.2 C278.0,826.9 282.3,828.7 285.7,829.9 C289.2,831.0 292.8,831.5 295.0,831.9 C297.3,832.4 296.3,833.1 299.3,832.4 C302.3,831.7 308.2,829.5 313.2,827.5 C318.3,825.6 323.7,823.3 329.5,820.6 C335.3,817.9 342.5,814.6 348.1,811.3 C353.7,808.0 358.1,803.3 363.2,800.8 C368.2,798.3 373.8,797.3 378.3,796.4 C382.7,795.5 386.4,795.3 389.9,795.2 C393.4,795.2 396.5,795.7 399.2,796.2 C401.9,796.6 402.7,798.1 406.2,798.0 C409.6,798.0 415.5,796.5 420.1,795.9 C424.7,795.4 429.4,795.5 434.0,794.5 C438.7,793.5 443.3,791.2 448.0,789.9 C452.6,788.6 457.3,788.6 461.9,786.9 C466.6,785.1 471.6,782.2 475.9,779.4 C480.1,776.7 484.0,772.8 487.5,770.1 C491.0,767.5 492.9,765.9 496.8,763.6 C500.6,761.4 507.0,758.3 510.7,756.9 C514.4,755.5 515.3,756.2 518.8,755.0 C522.3,753.9 527.2,752.5 531.6,749.9 C536.1,747.3 542.1,741.7 545.5,739.5 C549.0,737.2 549.4,738.1 552.5,736.5 C555.6,734.8 560.8,731.0 564.1,729.5 C567.4,727.9 569.6,727.4 572.3,727.2 C575.0,727.0 577.6,728.3 580.4,728.3 C583.2,728.3 585.5,727.9 589.3,727.2 C593.1,726.4 598.6,724.9 603.2,723.7 C607.9,722.4 613.3,720.4 617.2,719.7 C621.0,719.0 623.0,719.2 626.5,719.5 C629.9,719.8 634.2,720.7 638.1,721.4 C642.0,722.1 645.8,723.0 649.7,723.7 C653.6,724.4 657.4,724.5 661.3,725.5 C665.2,726.6 669.8,729.1 672.9,730.2 C676.0,731.2 677.2,730.8 679.9,731.8 C682.6,732.8 685.7,733.9 689.2,736.0 C692.7,738.1 696.9,741.7 700.8,744.6 C704.7,747.5 708.5,750.9 712.4,753.2 C716.3,755.5 719.8,756.8 724.0,758.5 C728.3,760.3 733.3,762.3 738.0,763.9 C742.6,765.4 747.7,766.3 751.9,767.8 C756.2,769.4 759.3,771.7 763.5,773.2 C767.8,774.6 772.8,775.8 777.5,776.4 C782.1,777.1 787.5,776.8 791.4,777.1 C795.3,777.4 797.6,778.1 800.7,778.3 C803.8,778.5 806.9,777.6 810.0,778.3 C813.1,778.9 816.2,780.1 819.3,782.2 C822.4,784.4 825.1,787.3 828.6,791.1 C832.1,794.9 835.9,800.0 840.2,805.0 C844.5,810.0 849.5,816.4 854.1,821.3 C858.8,826.1 863.9,830.9 868.1,834.0 C872.3,837.1 875.5,837.3 879.3,839.8 C883.1,842.4 886.6,846.2 890.9,849.1 C895.2,852.1 900.4,854.9 904.8,857.7 C909.3,860.5 914.1,864.6 917.6,865.9 C921.1,867.1 922.1,866.8 925.8,865.4 C929.4,864.0 935.0,860.8 939.7,857.3 C944.3,853.7 949.0,847.9 953.6,844.0 C958.3,840.2 962.9,836.9 967.6,834.0 C972.2,831.2 976.9,829.8 981.5,827.1 C986.2,824.4 990.8,820.5 995.5,817.8 C1000.1,815.1 1004.7,812.5 1009.4,810.8 C1014.0,809.1 1018.7,808.0 1023.3,807.8 C1028.0,807.6 1032.6,808.6 1037.3,809.6 C1041.9,810.6 1046.2,812.5 1051.2,813.8 C1056.2,815.1 1063.6,816.5 1067.5,817.3 C1071.3,818.1 1071.0,817.2 1074.4,818.5 C1077.9,819.7 1083.7,823.0 1088.4,824.7 C1093.0,826.4 1097.7,827.6 1102.3,828.7 C1107.0,829.8 1111.6,830.0 1116.3,831.2 C1120.9,832.4 1125.9,834.5 1130.2,835.9 C1134.5,837.3 1138.9,839.1 1141.8,839.8 C1144.7,840.6 1144.9,840.7 1147.6,840.3 C1150.3,839.9 1156.0,838.1 1158.1,837.5 C1160.1,837.0 1157.0,838.5 1160.0,837.1 C1163.0,835.6 1171.2,830.9 1176.3,828.7 C1181.3,826.5 1185.2,825.4 1190.2,824.0 C1195.2,822.7 1202.2,822.4 1206.5,820.8 C1210.7,819.2 1211.9,817.6 1215.8,814.3 C1219.6,811.0 1225.4,804.8 1229.7,800.8 C1234.0,796.8 1238.2,792.6 1241.3,790.4 C1244.4,788.1 1244.8,788.0 1248.3,787.1 C1251.8,786.3 1257.6,785.7 1262.2,785.2 C1266.9,784.8 1271.5,785.4 1276.2,784.6 C1280.8,783.7 1285.5,781.3 1290.1,780.1 C1294.7,779.0 1299.4,777.9 1304.0,777.6 C1308.7,777.2 1313.3,777.3 1318.0,778.0 C1322.6,778.8 1327.3,780.6 1331.9,782.0 C1336.6,783.4 1340.8,785.0 1345.9,786.4 C1350.9,787.8 1357.1,789.4 1362.1,790.6 C1367.1,791.8 1371.4,792.3 1376.1,793.4 C1380.7,794.5 1385.7,796.5 1390.0,797.3 C1394.3,798.2 1397.7,797.3 1401.6,798.5 C1405.5,799.7 1409.7,802.8 1413.2,804.5 C1416.7,806.3 1419.4,808.0 1422.5,809.2 C1425.6,810.4 1427.9,811.1 1431.8,811.7 C1435.7,812.4 1441.5,812.5 1445.7,813.1 C1450.0,813.7 1454.0,814.8 1457.4,815.5 C1460.8,816.1 1464.7,816.8 1466.2,817.1" fill="none" stroke="#fde63f" stroke-width="1.7" stroke-linejoin="round"/>
<polyline points="0.0,805.5 5.8,817.3 12.8,817.8 19.8,867.7 26.9,839.8 33.9,836.4 40.9,835.2 47.9,834.5 55.0,795.0 62.0,790.4 69.0,796.4 76.0,793.4 83.0,794.5 90.1,817.3 97.1,802.0 104.1,801.5 111.1,799.9 118.2,788.7 125.2,778.3 132.2,759.0 139.2,789.4 146.3,792.2 153.3,788.7 160.3,788.7 167.3,798.7 174.3,796.4 181.4,789.4 188.4,792.9 195.4,796.9 202.4,793.4 209.5,803.8 216.5,822.9 223.5,827.8 230.5,822.4 237.6,833.3 244.6,835.2 251.6,854.5 258.6,870.7 265.6,858.4 272.7,827.5 279.7,835.0 286.7,836.4 293.7,822.9 300.8,803.4 307.8,768.3 314.8,791.5 321.8,784.1 328.9,777.4 335.9,777.6 342.9,800.3 349.9,797.3 356.9,799.2 364.0,787.8 371.0,807.8 378.0,802.0 385.0,822.4 392.1,812.0 399.1,815.5 406.1,792.7 413.1,781.8 420.1,764.8 427.2,779.0 434.2,763.6 441.2,769.0 448.2,764.8 455.3,771.3 462.3,769.7 469.3,765.5 476.3,739.7 483.4,738.8 490.4,746.0 497.4,742.3 504.4,742.3 511.4,731.8 518.5,752.3 525.5,736.5 532.5,717.9 539.5,702.8 546.6,700.2 553.6,727.2 560.6,713.9 567.6,713.9 574.7,725.3 581.7,746.7 588.7,741.1 595.7,728.3 602.7,705.6 609.8,702.8 616.8,720.9 623.8,725.3 630.8,722.5 637.9,724.8 644.9,721.4 651.9,736.0 658.9,732.5 666.0,735.8 673.0,777.6 680.0,764.8 687.0,785.9 694.0,783.4 701.1,780.6 708.1,791.3 715.1,774.8 722.1,771.3 729.2,765.5 736.2,758.8 743.2,761.1 750.2,759.2 757.3,783.4 764.3,774.8 771.3,781.8 778.3,796.2 785.3,790.4 792.4,784.8 799.4,799.2 806.4,791.3 813.4,798.0 820.5,799.7 827.5,867.0 834.5,873.5 841.5,860.8 848.6,878.2 855.6,900.9 862.6,875.9 869.6,853.8 876.6,846.8 883.7,854.9 890.7,862.4 897.7,868.4 904.7,852.6 911.8,870.0 918.8,856.8 925.8,859.6 932.8,823.6 939.9,799.7 946.9,795.7 953.9,801.0 960.9,795.7 967.9,785.2 975.0,814.8 982.0,796.4 989.0,799.2 996.0,807.3 1003.1,810.3 1010.1,808.5 1017.1,838.7 1024.1,831.0 1031.2,836.4 1038.2,821.3 1045.2,825.9 1052.2,821.7 1059.2,811.5 1066.3,821.3 1073.3,824.3 1080.3,837.5 1087.3,839.1 1094.4,835.9 1101.4,842.6 1108.4,826.6 1115.4,854.2 1122.5,863.8 1129.5,862.1 1136.5,862.8 1143.5,852.6 1150.5,821.3 1157.6,789.4 1164.6,776.0 1171.6,778.7 1178.6,782.0 1185.7,805.5 1192.7,812.7 1199.7,815.5 1206.7,808.9 1213.7,788.5 1220.8,791.3 1227.8,754.6 1234.8,769.7 1241.8,774.6 1248.9,775.3 1255.9,772.0 1262.9,765.7 1269.9,772.9 1277.0,787.1 1284.0,776.7 1291.0,772.7 1298.0,795.5 1305.0,788.7 1312.1,792.7 1319.1,794.1 1326.1,779.0 1333.1,805.0 1340.2,803.8 1347.2,805.2 1354.2,795.0 1361.2,798.0 1368.3,798.0 1375.3,790.6 1382.3,804.5 1389.3,805.5 1396.3,802.0 1403.4,807.3 1410.4,849.4 1417.4,839.1 1424.4,835.2 1431.5,836.4 1438.5,804.8 1445.5,815.5 1452.5,808.5 1459.6,817.5 1466.6,818.5" fill="none" stroke="#7e57c2" stroke-width="1.55" stroke-linejoin="round"/>
</g>
<rect x="0" y="687" width="1733" height="2" fill="#e0e3eb"/>
<rect x="1664.5" y="0" width="68.5" height="687" fill="#fff"/>
<rect x="1664.5" y="689" width="68.5" height="225.5" fill="#fff"/>
<line x1="1664.5" y1="0" x2="1664.5" y2="755" stroke="#555" stroke-width="1" shape-rendering="crispEdges"/>
<line x1="1664.5" y1="863" x2="1664.5" y2="947" stroke="#555" stroke-width="1" shape-rendering="crispEdges"/>
<line x1="1664.5" y1="833.4" x2="1664.5" y2="836" stroke="#555" stroke-width="1" shape-rendering="crispEdges"/>
<g clip-path="url(#axclip)">
<text x="1675.9" y="42.1" font-size="17.2" fill="#4a4a4a" font-weight="normal" text-anchor="start" textLength="46.6" lengthAdjust="spacingAndGlyphs" stroke="#4a4a4a" stroke-width="0.12">46500</text>
<text x="1675.9" y="141.0" font-size="17.2" fill="#4a4a4a" font-weight="normal" text-anchor="start" textLength="46.6" lengthAdjust="spacingAndGlyphs" stroke="#4a4a4a" stroke-width="0.12">45500</text>
<text x="1675.9" y="240.0" font-size="17.2" fill="#4a4a4a" font-weight="normal" text-anchor="start" textLength="46.6" lengthAdjust="spacingAndGlyphs" stroke="#4a4a4a" stroke-width="0.12">44500</text>
<text x="1675.9" y="289.4" font-size="17.2" fill="#4a4a4a" font-weight="normal" text-anchor="start" textLength="46.6" lengthAdjust="spacingAndGlyphs" stroke="#4a4a4a" stroke-width="0.12">44000</text>
<text x="1675.9" y="487.3" font-size="17.2" fill="#4a4a4a" font-weight="normal" text-anchor="start" textLength="46.6" lengthAdjust="spacingAndGlyphs" stroke="#4a4a4a" stroke-width="0.12">42000</text>
<text x="1675.9" y="536.7" font-size="17.2" fill="#4a4a4a" font-weight="normal" text-anchor="start" textLength="46.6" lengthAdjust="spacingAndGlyphs" stroke="#4a4a4a" stroke-width="0.12">41500</text>
<text x="1675.9" y="586.2" font-size="17.2" fill="#4a4a4a" font-weight="normal" text-anchor="start" textLength="46.6" lengthAdjust="spacingAndGlyphs" stroke="#4a4a4a" stroke-width="0.12">41000</text>
<text x="1675.9" y="635.6" font-size="17.2" fill="#4a4a4a" font-weight="normal" text-anchor="start" textLength="46.6" lengthAdjust="spacingAndGlyphs" stroke="#4a4a4a" stroke-width="0.12">40500</text>
<text x="1675.9" y="685.1" font-size="17.2" fill="#4a4a4a" font-weight="normal" text-anchor="start" textLength="46.6" lengthAdjust="spacingAndGlyphs" stroke="#4a4a4a" stroke-width="0.12">40000</text>
</g>
<text x="1676" y="723.5" font-size="17.3" fill="#4a4a4a" font-weight="normal" text-anchor="start" textLength="43.8" lengthAdjust="spacingAndGlyphs" stroke="#4a4a4a" stroke-width="0.12">80.00</text>
<text x="1676" y="774.3" font-size="17.3" fill="#131313" font-weight="normal" text-anchor="start" textLength="43.8" lengthAdjust="spacingAndGlyphs" stroke="#131313" stroke-width="0.45">58.28</text>
<text x="1676" y="855.6" font-size="17.3" fill="#131313" font-weight="normal" text-anchor="start" textLength="43.8" lengthAdjust="spacingAndGlyphs" stroke="#131313" stroke-width="0.45">40.88</text>
<path d="M1664.0,75 H1729 Q1732,75 1732,78 V99 Q1732,102 1729,102 H1664.0 Z" fill="#2962ff"/>
<text x="1675.9" y="94.6" font-size="17.4" fill="#fff" font-weight="bold" text-anchor="start" textLength="46.5" lengthAdjust="spacingAndGlyphs">45962</text>
<path d="M1664.0,169 H1729 Q1732,169 1732,172 V193 Q1732,196 1729,196 H1664.0 Z" fill="#2962ff"/>
<text x="1675.9" y="188.6" font-size="17.4" fill="#fff" font-weight="bold" text-anchor="start" textLength="46.5" lengthAdjust="spacingAndGlyphs">45017</text>
<path d="M1664.0,234 H1729 Q1732,234 1732,237 V258 Q1732,261 1729,261 H1664.0 Z" fill="#2962ff"/>
<text x="1675.9" y="253.6" font-size="17.4" fill="#fff" font-weight="bold" text-anchor="start" textLength="46.5" lengthAdjust="spacingAndGlyphs">44353</text>
<path d="M1664.0,488 H1729 Q1732,488 1732,491 V512 Q1732,515 1729,515 H1664.0 Z" fill="#f23645"/>
<text x="1675.9" y="507.6" font-size="17.4" fill="#fff" font-weight="bold" text-anchor="start" textLength="46.5" lengthAdjust="spacingAndGlyphs">41786</text>
<path d="M1664.0,601 H1729 Q1732,601 1732,604 V625 Q1732,628 1729,628 H1664.0 Z" fill="#f23645"/>
<text x="1675.9" y="620.6" font-size="17.4" fill="#fff" font-weight="bold" text-anchor="start" textLength="46.5" lengthAdjust="spacingAndGlyphs">40649</text>
<path d="M1664.0,372 H1729 Q1732,372 1732,375 V393 Q1732,396 1729,396 H1664.0 Z" fill="#4caf50"/>
<text x="1675.9" y="389.0" font-size="17.4" fill="#fff" font-weight="bold" text-anchor="start" textLength="46.5" lengthAdjust="spacingAndGlyphs">43396</text>
<path d="M1664.0,396 H1729 Q1732,396 1732,399 V420 Q1732,423 1729,423 H1664.0 Z" fill="#2962ff"/>
<text x="1675.9" y="415.5" font-size="17.4" fill="#fff" font-weight="bold" text-anchor="start" textLength="46.5" lengthAdjust="spacingAndGlyphs">43258</text>
<path d="M1664.0,423 H1729 Q1732,423 1732,426 V445 Q1732,448 1729,448 H1664.0 Z" fill="#f23645"/>
<text x="1675.9" y="440.0" font-size="17.4" fill="#fff" font-weight="bold" text-anchor="start" textLength="46.5" lengthAdjust="spacingAndGlyphs">42635</text>
<rect x="1664.0" y="324" width="69.5" height="48" fill="#d85340"/>
<text x="1675.9" y="343.2" font-size="17.4" fill="#fff" font-weight="bold" text-anchor="start" textLength="46.5" lengthAdjust="spacingAndGlyphs">43453</text>
<text x="1676" y="363.9" font-size="17.3" fill="#fff" fill-opacity="0.75" stroke="#fff" stroke-opacity="0.75" stroke-width="0.4" textLength="67.5" lengthAdjust="spacingAndGlyphs">03:00:12</text>
<path d="M1664.0,781.8 H1729.5 Q1729.5,781.8 1729.5,781.8 V807.4 Q1729.5,807.4 1729.5,807.4 H1664.0 Z" fill="#ffeb3b"/>
<text x="1675.9" y="799.6" font-size="17.4" fill="#131313" font-weight="normal" text-anchor="start" textLength="43.8" lengthAdjust="spacingAndGlyphs" stroke="#131313" stroke-width="0.5">50.53</text>
<path d="M1664.0,807.4 H1726.5 Q1729.5,807.4 1729.5,810.4 V830.2 Q1729.5,833.2 1726.5,833.2 H1664.0 Z" fill="#7e57c2"/>
<text x="1675.9" y="825.2" font-size="17.4" fill="#fff" font-weight="bold" text-anchor="start" textLength="43.8" lengthAdjust="spacingAndGlyphs">49.95</text>
<path d="M1670.5,-2 V30 Q1670.5,34.5 1675,34.5 H1735 V-2 Z" fill="#fff" stroke="#e0e3eb" stroke-width="1"/>
<text x="1676" y="21.7" font-size="18.6" fill="#131722" font-weight="normal" text-anchor="start" textLength="30.5" lengthAdjust="spacingAndGlyphs" stroke="#131722" stroke-width="0.12">USD</text>
<rect x="0" y="914.5" width="1733" height="32.5" fill="#fff"/>
<line x1="0" y1="914.5" x2="1733" y2="914.5" stroke="#555" stroke-width="1" shape-rendering="crispEdges"/>
<line x1="1664.5" y1="914.5" x2="1664.5" y2="947" stroke="#555" stroke-width="1" shape-rendering="crispEdges"/>
<text x="68.2" y="941.9" font-size="17.4" fill="#4a4a4a" font-weight="normal" text-anchor="middle" stroke="#4a4a4a" stroke-width="0.25">23</text>
<text x="236.3" y="941.9" font-size="17.4" fill="#4a4a4a" font-weight="normal" text-anchor="middle" stroke="#4a4a4a" stroke-width="0.25">27</text>
<text x="405" y="941.9" font-size="17.4" fill="#4a4a4a" font-weight="normal" text-anchor="middle" stroke="#4a4a4a" stroke-width="0.75">Dec</text>
<text x="532" y="941.9" font-size="17.4" fill="#4a4a4a" font-weight="normal" text-anchor="middle" stroke="#4a4a4a" stroke-width="0.25">4</text>
<text x="658.3" y="941.9" font-size="17.4" fill="#4a4a4a" font-weight="normal" text-anchor="middle" stroke="#4a4a4a" stroke-width="0.25">7</text>
<text x="826.5" y="941.9" font-size="17.4" fill="#4a4a4a" font-weight="normal" text-anchor="middle" stroke="#4a4a4a" stroke-width="0.25">11</text>
<text x="953.3" y="941.9" font-size="17.4" fill="#4a4a4a" font-weight="normal" text-anchor="middle" stroke="#4a4a4a" stroke-width="0.25">14</text>
<text x="1122" y="941.9" font-size="17.4" fill="#4a4a4a" font-weight="normal" text-anchor="middle" stroke="#4a4a4a" stroke-width="0.25">18</text>
<text x="1247.5" y="941.9" font-size="17.4" fill="#4a4a4a" font-weight="normal" text-anchor="middle" stroke="#4a4a4a" stroke-width="0.25">21</text>
<text x="1416" y="941.9" font-size="17.4" fill="#4a4a4a" font-weight="normal" text-anchor="middle" stroke="#4a4a4a" stroke-width="0.25">25</text>
<text x="1543" y="941.9" font-size="17.4" fill="#4a4a4a" font-weight="normal" text-anchor="middle" stroke="#4a4a4a" stroke-width="0.25">28</text>
<g transform="translate(1711.9,935.4)" fill="none" stroke="#131722" stroke-width="1.4"><path d="M-10.2,0 L-5.2,-8.85 H5.2 L10.2,0 L5.2,8.85 H-5.2 Z" stroke-linejoin="round"/><circle r="3.1"/></g>
<g transform="translate(23.4,15.2)"><circle r="13.4" fill="#f7931a"/><text x="0.3" y="5.6" font-size="16" font-weight="bold" fill="#fff" text-anchor="middle" transform="rotate(13)">₿</text></g>
<text x="44.1" y="23.8" font-size="25.6" fill="#4a4a4a" font-weight="normal" text-anchor="start" textLength="72.2" lengthAdjust="spacingAndGlyphs" stroke="#4a4a4a" stroke-width="0.25">Bitcoin</text>
<text x="127.6" y="23.8" font-size="25.6" fill="#4a4a4a" font-weight="normal" text-anchor="start" textLength="6.8" lengthAdjust="spacingAndGlyphs" stroke="#4a4a4a" stroke-width="0.25">/</text>
<text x="146.3" y="23.8" font-size="25.6" fill="#4a4a4a" font-weight="normal" text-anchor="start" textLength="40.7" lengthAdjust="spacingAndGlyphs" stroke="#4a4a4a" stroke-width="0.25">U.S.</text>
<text x="197.9" y="23.8" font-size="25.6" fill="#4a4a4a" font-weight="normal" text-anchor="start" textLength="61.2" lengthAdjust="spacingAndGlyphs" stroke="#4a4a4a" stroke-width="0.25">Dollar</text>
<text x="278.8" y="23.8" font-size="25.6" fill="#4a4a4a" font-weight="normal" text-anchor="start" textLength="24.6" lengthAdjust="spacingAndGlyphs" stroke="#4a4a4a" stroke-width="0.25">4h</text>
<text x="322.9" y="23.8" font-size="25.6" fill="#4a4a4a" font-weight="normal" text-anchor="start" textLength="100.3" lengthAdjust="spacingAndGlyphs" stroke="#4a4a4a" stroke-width="0.25">BITSTAMP</text>
<text x="268.9" y="20.2" font-size="13" fill="#4a4a4a" font-weight="normal" text-anchor="middle" stroke="#4a4a4a" stroke-width="2.3" stroke-linejoin="round">·</text>
<text x="313.2" y="20.2" font-size="13" fill="#4a4a4a" font-weight="normal" text-anchor="middle" stroke="#4a4a4a" stroke-width="2.3" stroke-linejoin="round">·</text>
<circle cx="459.5" cy="15.3" r="13.4" fill="#089981" fill-opacity="0.13"/><circle cx="459.5" cy="15.3" r="6.1" fill="#089981"/>
<text x="497.6" y="21.6" font-size="17.6" fill="#4a4a4a" font-weight="normal" text-anchor="start" stroke="#4a4a4a" stroke-width="0.12">O</text>
<text x="511.5" y="21.6" font-size="17.6" fill="#5c1812" font-weight="normal" text-anchor="start" textLength="51.5" lengthAdjust="spacingAndGlyphs" stroke="#5c1812" stroke-width="0.12">43468</text>
<text x="573" y="21.6" font-size="17.6" fill="#4a4a4a" font-weight="normal" text-anchor="start" stroke="#4a4a4a" stroke-width="0.12">H</text>
<text x="586" y="21.6" font-size="17.6" fill="#5c1812" font-weight="normal" text-anchor="start" textLength="51.3" lengthAdjust="spacingAndGlyphs" stroke="#5c1812" stroke-width="0.12">43488</text>
<text x="647.6" y="21.6" font-size="17.6" fill="#4a4a4a" font-weight="normal" text-anchor="start" stroke="#4a4a4a" stroke-width="0.12">L</text>
<text x="657" y="21.6" font-size="17.6" fill="#5c1812" font-weight="normal" text-anchor="start" textLength="51.0" lengthAdjust="spacingAndGlyphs" stroke="#5c1812" stroke-width="0.12">43404</text>
<text x="718.7" y="21.6" font-size="17.6" fill="#4a4a4a" font-weight="normal" text-anchor="start" stroke="#4a4a4a" stroke-width="0.12">C</text>
<text x="730.5" y="21.6" font-size="17.6" fill="#5c1812" font-weight="normal" text-anchor="start" textLength="50.5" lengthAdjust="spacingAndGlyphs" stroke="#5c1812" stroke-width="0.12">43453</text>
<text x="792.5" y="21.6" font-size="17.6" fill="#5c1812" font-weight="normal" text-anchor="start" textLength="28.5" lengthAdjust="spacingAndGlyphs" stroke="#5c1812" stroke-width="0.12">−16</text>
<text x="829" y="21.6" font-size="17.6" fill="#5c1812" font-weight="normal" text-anchor="start" textLength="73" lengthAdjust="spacingAndGlyphs" stroke="#5c1812" stroke-width="0.12">(−0.04%)</text>
<rect x="9.5" y="39.8" width="72.8" height="34.6" rx="5" fill="#fff" stroke="#f23645" stroke-width="1.25"/>
<text x="45.9" y="63.6" font-size="18.8" fill="#f23645" font-weight="normal" text-anchor="middle" textLength="50.2" lengthAdjust="spacingAndGlyphs" stroke="#f23645" stroke-width="0.3">43453</text>
<text x="99.7" y="63.0" font-size="17.2" fill="#131722" font-weight="normal" text-anchor="middle" stroke="#131722" stroke-width="0.12">1</text>
<rect x="116.5" y="39.8" width="72.8" height="34.6" rx="5" fill="#fff" stroke="#2962ff" stroke-width="1.25"/>
<text x="152.9" y="63.6" font-size="18.8" fill="#2962ff" font-weight="normal" text-anchor="middle" textLength="50.7" lengthAdjust="spacingAndGlyphs" stroke="#2962ff" stroke-width="0.3">43454</text>
<rect x="3" y="84" width="275" height="27" fill="#fff" fill-opacity="0.55"/>
<text x="10.7" y="105.8" font-size="19.5" fill="#4a4a4a" font-weight="normal" text-anchor="start" textLength="194.8" lengthAdjust="spacingAndGlyphs" stroke="#4a4a4a" stroke-width="0.12">EMA 50 close 0 EMA 50</text>
<text x="218" y="105.8" font-size="19.5" fill="#2962ff" font-weight="normal" text-anchor="start" textLength="50.3" lengthAdjust="spacingAndGlyphs" stroke="#2962ff" stroke-width="0.35">43258</text>
<rect x="11.8" y="120.5" width="40.4" height="29.8" rx="4" fill="#fff" stroke="#d6d9e4" stroke-width="1"/>
<path d="M26.4,138.8 L32.1,132.9 L37.8,138.8" fill="none" stroke="#131722" stroke-width="1.7" stroke-linecap="round" stroke-linejoin="round"/>
<rect x="3" y="699" width="447" height="27" fill="#fff" fill-opacity="0.6"/>
<text x="10.9" y="719.7" font-size="19.8" fill="#4a4a4a" font-weight="normal" text-anchor="start" textLength="183" lengthAdjust="spacingAndGlyphs" stroke="#4a4a4a" stroke-width="0.12">RSI 14 close SMA 14 2</text>
<text x="207.2" y="718.8" font-size="19.7" fill="#7e57c2" font-weight="normal" text-anchor="start" textLength="47.4" lengthAdjust="spacingAndGlyphs" stroke="#7e57c2" stroke-width="0.35">49.95</text>
<text x="264.8" y="718.8" font-size="19.7" fill="#ffe838" font-weight="normal" text-anchor="start" textLength="47.4" lengthAdjust="spacingAndGlyphs" stroke="#ffe838" stroke-width="0.7">50.53</text>
<text x="322.3" y="719.4" font-size="20.5" fill="#2e2e2e" font-weight="normal" text-anchor="start" textLength="11.6" lengthAdjust="spacingAndGlyphs">∅</text>
<text x="344.4" y="719.4" font-size="20.5" fill="#2e2e2e" font-weight="normal" text-anchor="start" textLength="11.6" lengthAdjust="spacingAndGlyphs">∅</text>
<text x="366.5" y="719.4" font-size="20.5" fill="#2e2e2e" font-weight="normal" text-anchor="start" textLength="11.6" lengthAdjust="spacingAndGlyphs">∅</text>
<text x="388.5" y="719.4" font-size="20.5" fill="#2e2e2e" font-weight="normal" text-anchor="start" textLength="11.6" lengthAdjust="spacingAndGlyphs">∅</text>
<text x="410.6" y="719.4" font-size="20.5" fill="#2e2e2e" font-weight="normal" text-anchor="start" textLength="11.6" lengthAdjust="spacingAndGlyphs">∅</text>
<text x="432.7" y="719.4" font-size="20.5" fill="#2e2e2e" font-weight="normal" text-anchor="start" textLength="11.6" lengthAdjust="spacingAndGlyphs">∅</text>
<g stroke="#fff" stroke-width="5.6" stroke-linejoin="round" paint-order="stroke" fill="#131722">
<path d="M15.1,871.1 H32.8 V892.9 H24.2 V879 H15.1 Z"/>
<path d="M48.8,871.1 H59.5 L50.8,892.9 H40.9 Z"/>
<circle cx="40.5" cy="874.8" r="4.3"/>
</g>
<g fill="#131722">
<path d="M15.1,871.1 H32.8 V892.9 H24.2 V879 H15.1 Z"/>
<path d="M48.8,871.1 H59.5 L50.8,892.9 H40.9 Z"/>
<circle cx="40.5" cy="874.8" r="4.3"/>
</g>
<text x="70.6" y="892.9" font-size="31.4" font-weight="bold" fill="#131722" stroke="#fff" stroke-width="4.4" stroke-linejoin="round" paint-order="stroke" textLength="181" lengthAdjust="spacingAndGlyphs">TradingView</text>
</svg></body></html>
